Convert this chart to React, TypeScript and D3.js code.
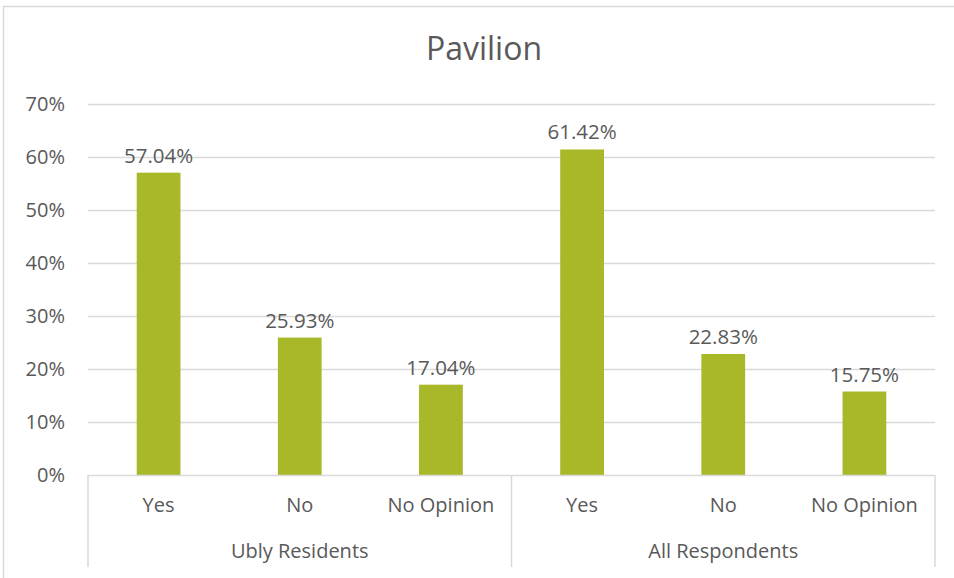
import * as d3 from "d3";
import { useEffect, useRef } from "react";

const groups = ["Ubly Residents", "All Respondents"];
const answers = ["Yes", "No", "No Opinion"];
const ublyValues = [57.04, 25.93, 17.04];
const allValues = [61.42, 22.83, 15.75];
const yTicks = [0, 10, 20, 30, 40, 50, 60, 70];

type Bar = { group: string; answer: string; value: number; key: string };

export default function App() {
  const svgRef = useRef<SVGSVGElement | null>(null);

  useEffect(() => {
    if (!svgRef.current) return;
    const svg = d3.select(svgRef.current);
    svg.selectAll("*").remove();

    const width = 954;
    const height = 578;
    const plot = { left: 88, right: 935, top: 104, bottom: 475 };
    const font = "'Open Sans', Lato, sans-serif";
    const textColor = "#595959";
    const gridColor = "#d9d9d9";

    const bars: Bar[] = [
      ...answers.map((a, i) => ({ group: groups[0], answer: a, value: ublyValues[i], key: `${groups[0]}|${a}` })),
      ...answers.map((a, i) => ({ group: groups[1], answer: a, value: allValues[i], key: `${groups[1]}|${a}` })),
    ];

    const y = d3.scaleLinear().domain([0, 70]).range([plot.bottom, plot.top]);
    const x = d3
      .scaleBand<string>()
      .domain(bars.map((b) => b.key))
      .range([plot.left, plot.right])
      .paddingInner(0.69)
      .paddingOuter(0.345);
    const groupBand = d3.scaleBand<string>().domain(groups).range([plot.left, plot.right]);

    // outer frame (top + left only visible)
    svg
      .append("path")
      .attr("d", `M3.5,${height} V6.5 H${width}`)
      .attr("fill", "none")
      .attr("stroke", gridColor)
      .attr("stroke-width", 1.5);

    svg
      .append("text")
      .attr("x", 484)
      .attr("y", 60)
      .attr("text-anchor", "middle")
      .attr("font-family", font)
      .attr("font-size", 32)
      .attr("fill", textColor)
      .text("Pavilion");

    // gridlines
    svg
      .append("g")
      .selectAll("line")
      .data(yTicks.filter((t) => t > 0))
      .join("line")
      .attr("x1", plot.left)
      .attr("x2", plot.right)
      .attr("y1", (d) => y(d) + 0.5)
      .attr("y2", (d) => y(d) + 0.5)
      .attr("stroke", gridColor)
      .attr("stroke-width", 1.5);

    svg
      .append("g")
      .selectAll("text")
      .data(yTicks)
      .join("text")
      .attr("x", 65)
      .attr("y", (d) => y(d) + 7)
      .attr("text-anchor", "end")
      .attr("font-family", font)
      .attr("font-size", 20)
      .attr("fill", textColor)
      .text((d) => `${d}%`);

    // bars
    svg
      .append("g")
      .selectAll("rect")
      .data(bars)
      .join("rect")
      .attr("x", (d) => x(d.key) ?? 0)
      .attr("y", (d) => y(d.value))
      .attr("width", x.bandwidth())
      .attr("height", (d) => plot.bottom - y(d.value))
      .attr("fill", "#a8b829");

    svg
      .append("g")
      .selectAll("text")
      .data(bars)
      .join("text")
      .attr("x", (d) => (x(d.key) ?? 0) + x.bandwidth() / 2)
      .attr("y", (d) => y(d.value) - 10)
      .attr("text-anchor", "middle")
      .attr("font-family", font)
      .attr("font-size", 20.5)
      .attr("fill", textColor)
      .text((d) => `${d.value.toFixed(2)}%`);

    // category axis
    const axis = svg.append("g");
    axis
      .append("line")
      .attr("x1", plot.left)
      .attr("x2", plot.right)
      .attr("y1", plot.bottom + 0.5)
      .attr("y2", plot.bottom + 0.5)
      .attr("stroke", gridColor)
      .attr("stroke-width", 1.5);

    const dividers = [...groups.map((g) => groupBand(g) ?? 0), plot.right];
    axis
      .selectAll(".divider")
      .data(dividers)
      .join("line")
      .attr("x1", (d) => d)
      .attr("x2", (d) => d)
      .attr("y1", plot.bottom)
      .attr("y2", 567)
      .attr("stroke", gridColor)
      .attr("stroke-width", 1.5);

    axis
      .selectAll(".answer")
      .data(bars)
      .join("text")
      .attr("x", (d) => (x(d.key) ?? 0) + x.bandwidth() / 2)
      .attr("y", 512)
      .attr("text-anchor", "middle")
      .attr("font-family", font)
      .attr("font-size", 20)
      .attr("fill", textColor)
      .text((d) => d.answer);

    axis
      .selectAll(".group")
      .data(groups)
      .join("text")
      .attr("x", (d) => (groupBand(d) ?? 0) + groupBand.bandwidth() / 2)
      .attr("y", 558)
      .attr("text-anchor", "middle")
      .attr("font-family", font)
      .attr("font-size", 20)
      .attr("fill", textColor)
      .text((d) => d);
  }, []);

  return (
    <svg
      ref={svgRef}
      width={954}
      height={578}
      style={{ position: "absolute", left: 0, top: 0, display: "block", background: "#ffffff" }}
    />
  );
}
